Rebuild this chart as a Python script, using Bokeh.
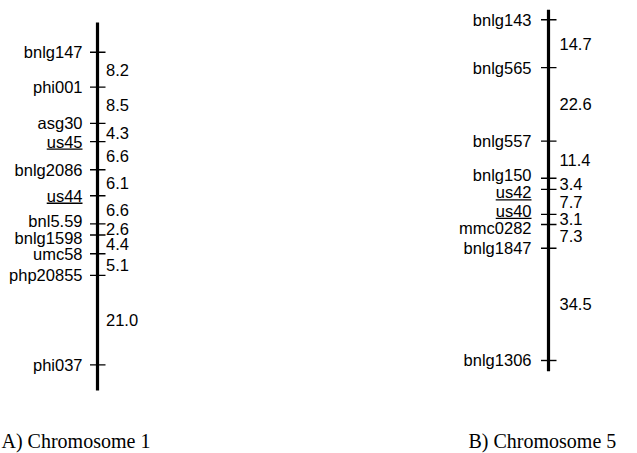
from bokeh.plotting import figure
from bokeh.models import Range1d, Label, ColumnDataSource
from bokeh.embed import file_html
from bokeh.resources import INLINE
from bokeh.core.properties import value
import numpy as np

# ---------------- data ----------------
chr1_markers = ["bnlg147", "phi001", "asg30", "us45", "bnlg2086", "us44",
                "bnl5.59", "bnlg1598", "umc58", "php20855", "phi037"]
chr1_dist = [8.2, 8.5, 4.3, 6.6, 6.1, 6.6, 2.6, 4.4, 5.1, 21.0]
chr1_underlined = ["us45", "us44"]

chr5_markers = ["bnlg143", "bnlg565", "bnlg557", "bnlg150", "us42", "us40",
                "mmc0282", "bnlg1847", "bnlg1306"]
chr5_dist = [14.7, 22.6, 11.4, 3.4, 7.7, 3.1, 7.3, 34.5]
chr5_underlined = ["us42", "us40"]

titles = ["A) Chromosome 1", "B) Chromosome 5"]

# ---------------- layout / style ----------------
W, H = 637, 453
PAGE_TOP, PAGE_BOTTOM = 0, H
FONT = "Liberation Sans"
FS = 16.5
CHAR_W = {"s": 0.5, "l": 0.222, "i": 0.222, ".": 0.278, "m": 0.833}

def text_width(t):
    return sum(CHAR_W.get(c, 0.556) for c in t) * FS

p = figure(width=W, height=H, output_backend="svg", toolbar_location=None,
           x_range=Range1d(0, W), min_border=0)
p.axis.visible = False
p.grid.visible = False
p.outline_line_color = None
p.background_fill_color = "white"
p.border_fill_color = "white"

def chrom_range(top_px, scale):
    # data = cM, inverted so that cM increases downward
    return Range1d(start=(PAGE_BOTTOM - top_px) / scale, end=(PAGE_TOP - top_px) / scale)

chroms = [
    dict(name="default", markers=chr1_markers, dist=chr1_dist, und=chr1_underlined,
         top=51.7, scale=4.26, x=97, pad=(7.0, 6.0), lab_x=82, dist_x=105.5),
    dict(name="chr5", markers=chr5_markers, dist=chr5_dist, und=chr5_underlined,
         top=19.3, scale=3.254, x=548, pad=(3.1, 3.3), lab_x=531, dist_x=559),
]

p.y_range = chrom_range(chroms[0]["top"], chroms[0]["scale"])
p.extra_y_ranges = {"chr5": chrom_range(chroms[1]["top"], chroms[1]["scale"])}

MIN_GAP = 17.0

for c in chroms:
    kw = {} if c["name"] == "default" else {"y_range_name": c["name"]}
    pos = np.concatenate([[0.0], np.cumsum(c["dist"])])
    sc = c["scale"]
    # backbone
    p.segment(x0=[c["x"]], x1=[c["x"]], y0=[pos[0] - c["pad"][0]], y1=[pos[-1] + c["pad"][1]],
              line_color="black", line_width=3.2, **kw)
    # ticks
    p.segment(x0=[c["x"] - 7.5] * len(pos), x1=[c["x"] + 8] * len(pos), y0=pos, y1=pos,
              line_color="black", line_width=1.4, **kw)
    # label de-overlap (in px)
    px = list(pos * sc)
    lab = list(px)
    for i in range(len(lab) - 1):
        gap = px[i + 1] - px[i]
        if gap < MIN_GAP:
            mid = (px[i] + px[i + 1]) / 2
            lab[i] = mid - MIN_GAP / 2
            lab[i + 1] = mid + MIN_GAP / 2
    lab_y = [v / sc for v in lab]
    src = ColumnDataSource(dict(x=[c["lab_x"]] * len(pos), y=lab_y, t=c["markers"]))
    p.text(x="x", y="y", text="t", source=src, text_align="right", text_baseline="middle",
           text_font=value(FONT), text_font_size=f"{FS}px", text_color="black", **kw)
    # underlines
    ux0, ux1, uy = [], [], []
    for m, yy in zip(c["markers"], lab):
        if m in c["und"]:
            w = text_width(m)
            ux0.append(c["lab_x"] - w)
            ux1.append(c["lab_x"])
            uy.append((yy + 7.5) / sc)
    p.segment(x0=ux0, x1=ux1, y0=uy, y1=uy, line_color="black", line_width=1.3, **kw)
    # distances
    mids = (pos[:-1] + pos[1:]) / 2
    dsrc = ColumnDataSource(dict(x=[c["dist_x"]] * len(mids), y=mids,
                                 t=[f"{d:.1f}" for d in c["dist"]]))
    p.text(x="x", y="y", text="t", source=dsrc, text_align="left", text_baseline="middle",
           text_font=value(FONT), text_font_size=f"{FS}px", text_color="black", **kw)

# titles
for t, xs in zip(titles, [1, 468]):
    p.add_layout(Label(x=xs, y=13, x_units="screen", y_units="screen", text=t,
                       text_font="Liberation Serif", text_font_size="20px",
                       text_baseline="alphabetic", text_color="black"))

open("out.html", "w").write(file_html(p, INLINE))
